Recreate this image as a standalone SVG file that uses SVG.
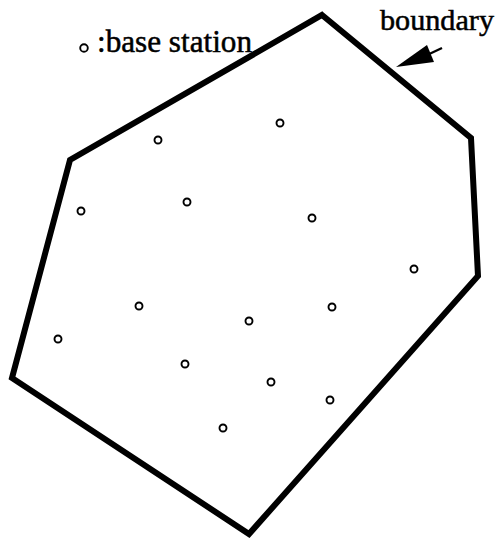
<svg xmlns="http://www.w3.org/2000/svg" width="498" height="540" viewBox="0 0 498 540">
<style>
.st{fill:none;stroke:#000;stroke-width:1.9}
.lbl{font-family:"Liberation Serif","Times New Roman",serif;fill:#000;stroke:#000;stroke-width:0.5}
</style>
<rect width="498" height="540" fill="#fff"/>
<g id="boundary">
<polygon points="322,15 471,138 478,276 249,534 12,378 70,160" fill="none" stroke="#000" stroke-width="6" stroke-linejoin="miter"/>
</g>
<g id="stations">
<circle class="st" cx="158" cy="140" r="3.5"/>
<circle class="st" cx="280" cy="123" r="3.5"/>
<circle class="st" cx="81" cy="211" r="3.5"/>
<circle class="st" cx="187" cy="202" r="3.5"/>
<circle class="st" cx="312" cy="218" r="3.5"/>
<circle class="st" cx="414" cy="269" r="3.5"/>
<circle class="st" cx="139" cy="306" r="3.5"/>
<circle class="st" cx="249" cy="321" r="3.5"/>
<circle class="st" cx="332" cy="307" r="3.5"/>
<circle class="st" cx="58" cy="339" r="3.5"/>
<circle class="st" cx="185" cy="364" r="3.5"/>
<circle class="st" cx="271" cy="382" r="3.5"/>
<circle class="st" cx="330" cy="400" r="3.5"/>
<circle class="st" cx="223" cy="428" r="3.5"/>
</g>
<g id="legend">
<circle class="st" cx="84" cy="48" r="3.8"/>
<text class="lbl" x="97" y="52" font-size="31" textLength="155" lengthAdjust="spacingAndGlyphs">:base station</text>
</g>
<g id="boundary-label">
<text class="lbl" x="380" y="30" font-size="29" textLength="114" lengthAdjust="spacingAndGlyphs">boundary</text>
</g>
<g id="connectors">
<line x1="442" y1="48" x2="425" y2="56" stroke="#000" stroke-width="2.4"/>
<polygon points="396,67 427,45 434,62" fill="#000"/>
</g>
</svg>
